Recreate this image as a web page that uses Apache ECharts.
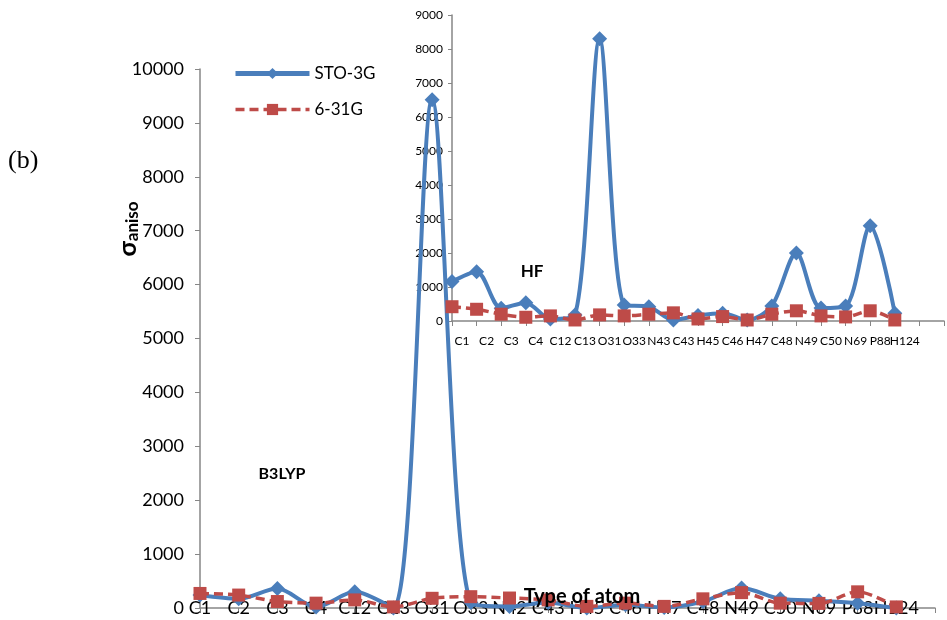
<!DOCTYPE html>
<html>
<head>
<meta charset="utf-8">
<script src="https://cdn.jsdelivr.net/npm/echarts@6/dist/echarts.min.js"></script>
<style>
html, body { margin: 0; padding: 0; background: #fff; }
#chart { width: 947px; height: 620px; }
</style>
</head>
<body>
<div id="chart"></div>
<script>
// atom labels (main chart = B3LYP, inset = HF)
const atomsB3LYP = ["C1", "C2", "C3", "C4", "C12", "C13", "O31", "O33", "N42", "C43", "H45", "C46", "H47", "C48", "N49", "C50", "N69", "P88", "H124"]
const atomsHF = ["C1", "C2", "C3", "C4", "C12", "C13", "O31", "O33", "N43", "C43", "H45", "C46", "H47", "C48", "N49", "C50", "N69", "P88", "H124"]

// sigma aniso, B3LYP
const sto3gB3LYP = [240, 170, 360, 20, 300, 0, 9430, 100, 30, 100, 0, 60, 10, 120, 370, 170, 135, 90, 0]
const g631B3LYP = [270, 240, 120, 90, 150, 20, 180, 210, 185, 150, 30, 90, 30, 170, 285, 90, 85, 300, 20]

// sigma aniso, HF
const sto3gHF = [1160, 1450, 375, 540, 60, 180, 8300, 470, 420, 30, 160, 230, 30, 440, 2000, 380, 440, 2800, 230]
const g631HF = [420, 345, 200, 110, 150, 30, 180, 150, 200, 240, 60, 130, 30, 200, 300, 150, 120, 300, 30]

const BLUE = "#4A7EBB"
const RED = "#BE4B48"
const AXIS = "#868686"
const FONT = "Lato, 'Open Sans', sans-serif"

const chart = echarts.init(document.getElementById("chart"))

function stoSeries(name, data, idx) {
  return {
    name,
    type: "line",
    xAxisIndex: idx,
    yAxisIndex: idx,
    data,
    smooth: 0.3,
    symbol: "diamond",
    symbolSize: 15,
    lineStyle: { color: BLUE, width: 4 },
    itemStyle: { color: BLUE },
    z: 3,
  }
}

function g631Series(name, data, idx) {
  return {
    name,
    type: "line",
    xAxisIndex: idx,
    yAxisIndex: idx,
    data,
    smooth: 0.3,
    symbol: "rect",
    symbolSize: 13,
    lineStyle: { color: RED, width: 3.5, type: [9, 5] },
    itemStyle: { color: RED },
    z: 4,
  }
}

const plain = v => String(v)

const option = {
  animation: false,
  backgroundColor: "#fff",
  textStyle: { fontFamily: FONT },

  legend: {
    data: [
      { name: "STO-3G", lineStyle: { width: 5 } },
      { name: "6-31G", lineStyle: { width: 3.5 } },
    ],
    orient: "vertical",
    left: 228,
    top: 60,
    itemWidth: 74,
    itemHeight: 14,
    itemGap: 19,
    textStyle: { fontSize: 17, color: "#000", fontFamily: FONT },
  },

  grid: [
    { left: 200, top: 69, width: 735, height: 539 },
    { left: 452, top: 15, width: 496, height: 306 },
  ],

  xAxis: [
    {
      type: "category",
      gridIndex: 0,
      boundaryGap: false,
      data: [...atomsB3LYP, ""],
      axisLine: { lineStyle: { color: AXIS, width: 1.5 } },
      axisTick: { length: 5, lineStyle: { color: AXIS } },
      axisLabel: {
        interval: 0,
        margin: -9,
        fontSize: 18,
        color: "#000",
        fontFamily: FONT,
      },
    },
    {
      type: "category",
      gridIndex: 1,
      boundaryGap: false,
      data: [...atomsHF, "", ""],
      axisLine: { lineStyle: { color: AXIS, width: 1.5 } },
      axisTick: { length: 5, lineStyle: { color: AXIS } },
      axisLabel: {
        interval: 0,
        margin: 14,
        fontSize: 12,
        color: "#000",
        padding: [0, 0, 0, 20],
        fontFamily: FONT,
      },
    },
  ],

  yAxis: [
    {
      type: "value",
      gridIndex: 0,
      min: 0,
      max: 10000,
      interval: 1000,
      splitLine: { show: false },
      axisLine: { show: true, lineStyle: { color: AXIS, width: 1.5 } },
      axisTick: { show: true, length: 5, lineStyle: { color: AXIS } },
      axisLabel: { fontSize: 18, margin: 16, color: "#000", fontFamily: FONT, formatter: plain },
    },
    {
      type: "value",
      gridIndex: 1,
      min: 0,
      max: 9000,
      interval: 1000,
      splitLine: { show: false },
      axisLine: { show: true, lineStyle: { color: AXIS, width: 1.5 } },
      axisTick: { show: true, length: 4, lineStyle: { color: AXIS } },
      axisLabel: { fontSize: 12, margin: 9, color: "#000", fontFamily: FONT, formatter: plain },
    },
  ],

  series: [
    stoSeries("STO-3G", sto3gB3LYP, 0),
    g631Series("6-31G", g631B3LYP, 0),
    stoSeries("STO-3G", sto3gHF, 1),
    g631Series("6-31G", g631HF, 1),
  ],

  graphic: [
    {
      type: "text",
      left: 8,
      top: 148,
      style: { text: "(b)", font: "26px 'Liberation Serif', serif", fill: "#000" },
    },
    {
      type: "text",
      x: 128,
      y: 229,
      rotation: Math.PI / 2,
      style: {
        text: "{a|σ}{b|aniso}",
        align: "center",
        verticalAlign: "middle",
        rich: {
          a: { fontSize: 25, fontWeight: "bold", fontFamily: FONT, fill: "#000" },
          b: { fontSize: 17, fontWeight: "bold", fontFamily: FONT, fill: "#000", verticalAlign: "bottom", padding: [10, 0, 0, 0] },
        },
      },
    },
    {
      type: "text",
      x: 282,
      y: 474,
      style: { text: "B3LYP", font: "bold 16px " + FONT, fill: "#000", align: "center", verticalAlign: "middle" },
    },
    {
      type: "text",
      x: 532,
      y: 272,
      style: { text: "HF", font: "bold 17px " + FONT, fill: "#000", align: "center", verticalAlign: "middle" },
    },
    {
      type: "text",
      x: 582,
      y: 597,
      z: 100,
      style: { text: "Type of atom", font: "bold 20px " + FONT, fill: "#000", align: "center", verticalAlign: "middle" },
    },
  ],
}

chart.setOption(option)
</script>
</body>
</html>
